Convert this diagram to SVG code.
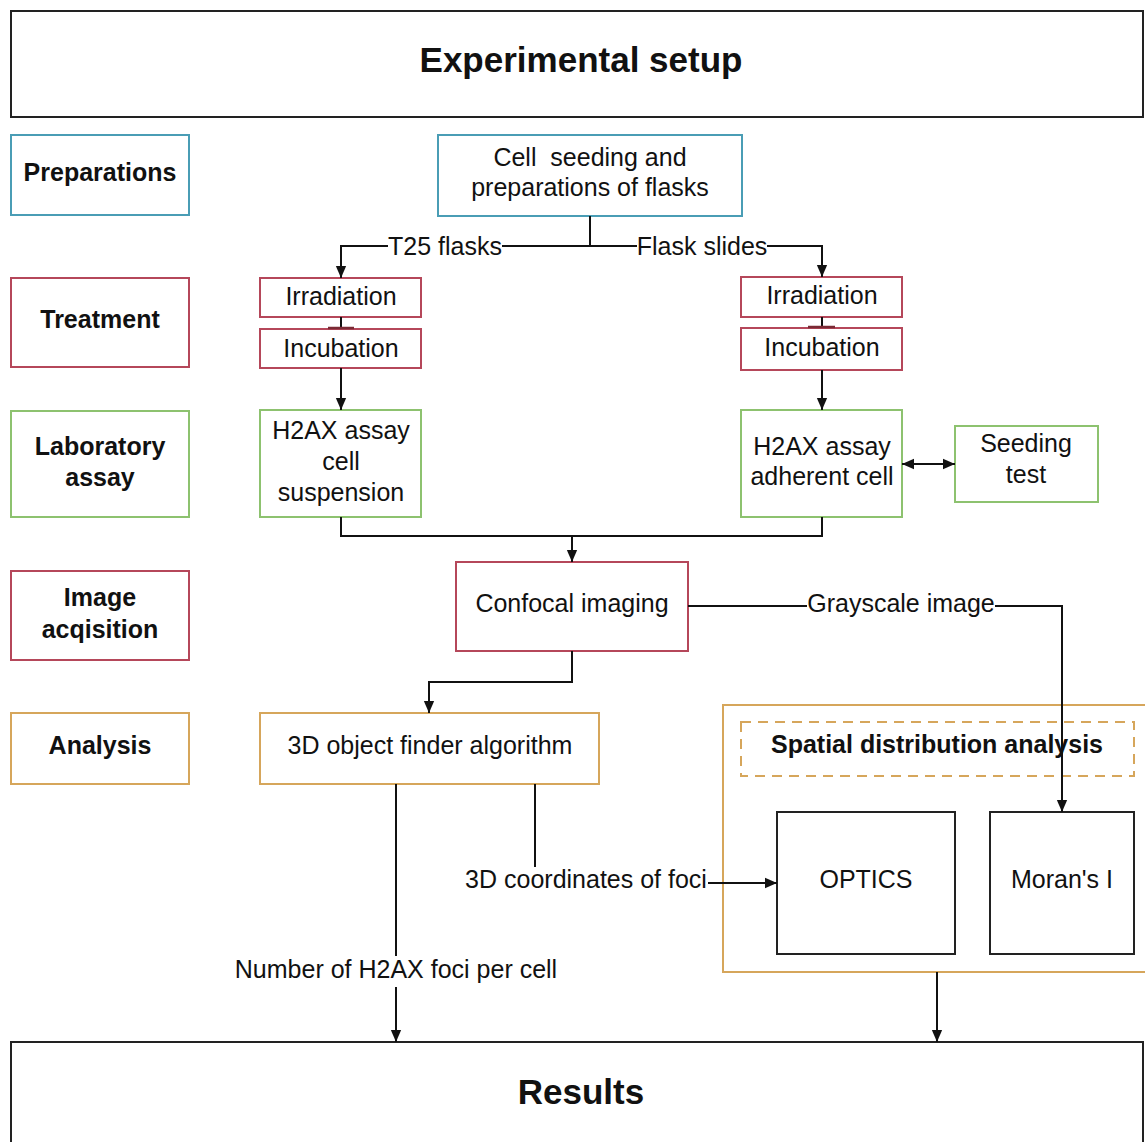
<svg xmlns="http://www.w3.org/2000/svg" width="1145" height="1142" viewBox="0 0 1145 1142">
<defs>
<marker id="arr" markerUnits="userSpaceOnUse" markerWidth="12" markerHeight="16" refX="14" refY="6" viewBox="0 0 14 12" orient="auto-start-reverse"><path d="M0,0 L14,6 L0,12 Z" fill="#111"/></marker>
</defs>
<style>
.t{font-family:"Liberation Sans",Arial,sans-serif;font-size:25px;fill:#111;text-anchor:middle}
.b{font-weight:bold}
.big{font-size:35px;font-weight:bold}
.n{fill:#fff;stroke-width:2}
.blk{stroke:#222}
.teal{stroke:#4a9db5}
.red{stroke:#b5475a}
.grn{stroke:#8dc26f}
.org{stroke:#d6a65b}
.c{fill:none;stroke:#111;stroke-width:2}
</style>
<rect width="1145" height="1142" fill="#fff"/>
<g id="header"><rect class="n blk" x="11" y="11" width="1132" height="106"/><text class="t big" x="581" y="72">Experimental setup</text></g>
<g id="preparations"><rect class="n teal" x="11" y="135" width="178" height="80"/><text class="t b" x="100" y="181">Preparations</text></g>
<g id="treatment"><rect class="n red" x="11" y="278" width="178" height="89"/><text class="t b" x="100" y="328">Treatment</text></g>
<g id="labassay"><rect class="n grn" x="11" y="411" width="178" height="106"/><text class="t b" x="100" y="455">Laboratory</text><text class="t b" x="100" y="486">assay</text></g>
<g id="imageacq"><rect class="n red" x="11" y="571" width="178" height="89"/><text class="t b" x="100" y="606">Image</text><text class="t b" x="100" y="638">acqisition</text></g>
<g id="analysis"><rect class="n org" x="11" y="713" width="178" height="71"/><text class="t b" x="100" y="754">Analysis</text></g>
<g id="cellseeding"><rect class="n teal" x="438" y="135" width="304" height="81"/><text class="t" x="590" y="166">Cell &#160;seeding and</text><text class="t" x="590" y="196">preparations of flasks</text></g>
<g id="irr-left"><rect class="n red" x="260" y="278" width="161" height="39"/><text class="t" x="341" y="305">Irradiation</text></g>
<g id="inc-left"><rect class="n red" x="260" y="329" width="161" height="39"/><text class="t" x="341" y="357">Incubation</text></g>
<g id="irr-right"><rect class="n red" x="741" y="277" width="161" height="40"/><text class="t" x="822" y="304">Irradiation</text></g>
<g id="inc-right"><rect class="n red" x="741" y="328" width="161" height="42"/><text class="t" x="822" y="356">Incubation</text></g>
<g id="h2ax-left"><rect class="n grn" x="260" y="410" width="161" height="107"/><text class="t" x="341" y="439">H2AX assay</text><text class="t" x="341" y="470">cell</text><text class="t" x="341" y="501">suspension</text></g>
<g id="h2ax-right"><rect class="n grn" x="741" y="410" width="161" height="107"/><text class="t" x="822" y="455">H2AX assay</text><text class="t" x="822" y="485">adherent cell</text></g>
<g id="seeding"><rect class="n grn" x="955" y="426" width="143" height="76" stroke-width="2.5"/><text class="t" x="1026" y="452">Seeding</text><text class="t" x="1026" y="483">test</text></g>
<g id="confocal"><rect class="n red" x="456" y="562" width="232" height="89"/><text class="t" x="572" y="612">Confocal imaging</text></g>
<g id="finder"><rect class="n org" x="260" y="713" width="339" height="71"/><text class="t" x="430" y="754">3D object finder algorithm</text></g>
<g id="spatial"><rect class="n org" x="723" y="705" width="430" height="267"/><rect x="741" y="722" width="393" height="54" fill="none" stroke="#d6a65b" stroke-width="2" stroke-dasharray="10,7"/><text class="t b" x="937" y="753">Spatial distribution analysis</text></g>
<g id="optics"><rect class="n blk" x="777" y="812" width="178" height="142"/><text class="t" x="866" y="888">OPTICS</text></g>
<g id="moran"><rect class="n blk" x="990" y="812" width="144" height="142"/><text class="t" x="1062" y="888">Moran's I</text></g>
<g id="results"><rect class="n blk" x="11" y="1042" width="1132" height="110"/><text class="t big" x="581" y="1104">Results</text></g>
<g id="connectors">
<path class="c" d="M590,216 V246"/>
<path class="c" d="M388,246 H341 V278" marker-end="url(#arr)"/>
<path class="c" d="M502,246 H637"/>
<path class="c" d="M767,246 H822 V277" marker-end="url(#arr)"/>
<text class="t" x="445" y="255">T25 flasks</text>
<text class="t" x="702" y="255">Flask slides</text>
<path class="c" d="M341,317 V328"/>
<path d="M328,328 H354" stroke="#7a2a35" stroke-width="2.5"/>
<path class="c" d="M822,317 V327"/>
<path d="M808,327 H835" stroke="#7a2a35" stroke-width="2.5"/>
<path class="c" d="M341,368 V410" marker-end="url(#arr)"/>
<path class="c" d="M822,370 V410" marker-end="url(#arr)"/>
<path class="c" d="M902,464 H955" marker-start="url(#arr)" marker-end="url(#arr)"/>
<path class="c" d="M341,517 V536 H822 V517"/>
<path class="c" d="M572,536 V562" marker-end="url(#arr)"/>
<path class="c" d="M688,606 H807"/>
<path class="c" d="M995,606 H1062 V812" marker-end="url(#arr)"/>
<text class="t" x="901" y="612">Grayscale image</text>
<path class="c" d="M572,651 V682 H429 V713" marker-end="url(#arr)"/>
<path class="c" d="M535,784 V867"/>
<text class="t" x="586" y="888">3D coordinates of foci</text>
<path class="c" d="M708,883 H777" marker-end="url(#arr)"/>
<path class="c" d="M396,784 V956"/>
<text class="t" x="396" y="978">Number of H2AX foci per cell</text>
<path class="c" d="M396,987 V1042" marker-end="url(#arr)"/>
<path class="c" d="M937,972 V1042" marker-end="url(#arr)"/>
</g>
</svg>
